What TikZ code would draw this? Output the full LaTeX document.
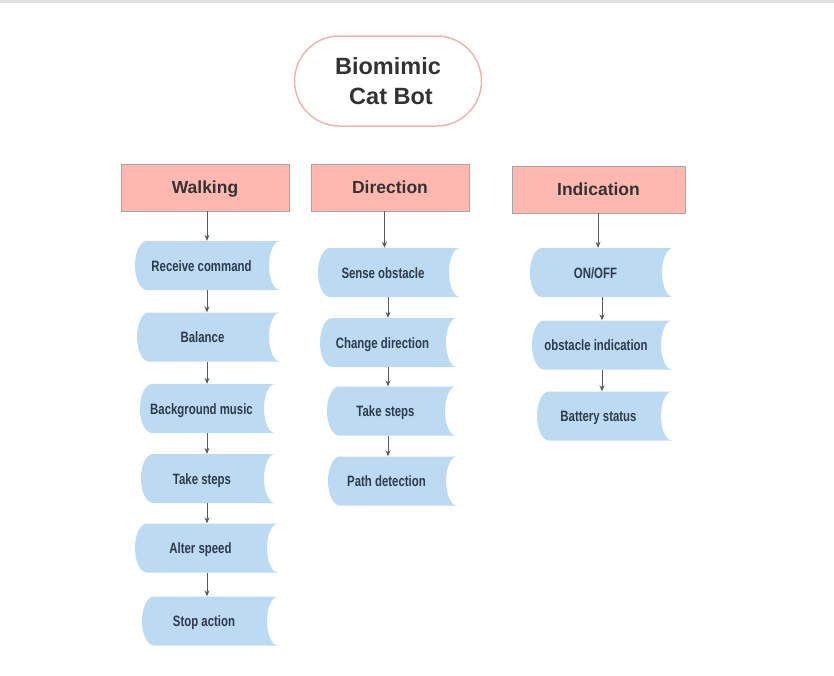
\documentclass[tikz,border=0pt]{standalone}
\usepackage{fontspec}
\setmainfont{Liberation Sans}
\newfontfamily\condfont{Liberation Sans}[FakeStretch=0.76]
\usetikzlibrary{arrows.meta}
\definecolor{headpink}{HTML}{FFB8B0}
\definecolor{titleline}{HTML}{F0B4AC}
\definecolor{cellblue}{HTML}{BCDAF1}
\definecolor{celltext}{HTML}{2E3B4D}
\definecolor{darktext}{HTML}{333333}
\definecolor{arrowgray}{HTML}{5A5A5A}
\begin{document}
\begin{tikzpicture}[x=1pt,y=-1pt,
	title/.style={rounded corners=45pt,draw=titleline,line width=1.5pt,minimum width=187pt,minimum height=90pt,align=center,font=\bfseries\fontsize{23.5}{30}\selectfont,text=darktext},
	head/.style={draw=gray!70,fill=headpink,minimum height=47pt,text height=12.5pt,text depth=0pt,font=\bfseries\fontsize{17.5}{20}\selectfont,text=darktext},
	cell/.style={minimum height=49pt,inner sep=0pt,text height=11pt,text depth=0pt,font=\condfont\bfseries\fontsize{15}{17}\selectfont,text=celltext,execute at end node=\kern12pt,
		path picture={
			\fill[cellblue] ([xshift=12pt]path picture bounding box.north west) -- (path picture bounding box.north east)
			arc[start angle=90,end angle=270,x radius=11pt,y radius=24.5pt] -- ([xshift=12pt]path picture bounding box.south west)
			arc[start angle=270,end angle=90,x radius=12pt,y radius=24.5pt] -- cycle;}},
	arr/.style={draw=arrowgray,line width=0.8pt,-{Stealth[length=6pt,width=5pt]}}]

	\useasboundingbox (0,0) rectangle (834,675);
	\fill[gray!25] (0,0) rectangle (834,2.5);

	\node[title] (bot) at (388,81) {Biomimic\\ \hspace*{6pt}Cat Bot};

	\node[head, minimum width=168pt] (walk) at (205,187.5) {Walking};
	\node[head, minimum width=158pt] (dir) at (390,187.5) {Direction};
	\node[head, minimum width=173pt] (ind) at (598.5,189.5) {Indication};

	% walking
	\node[cell, minimum width=145pt] (recv) at (207.5,265.5) {Receive command};
	\node[cell, minimum width=143pt] (bal) at (208.5,337) {Balance};
	\node[cell, minimum width=135pt] (music) at (207.5,408.5) {Background music};
	\node[cell, minimum width=134pt] (wsteps) at (208,478.5) {Take steps};
	\node[cell, minimum width=143pt] (speed) at (206.5,548) {Alter speed};
	\node[cell, minimum width=136pt] (stop) at (210,621) {Stop action};

	% direction
	\node[cell, minimum width=142pt] (sense) at (389,272.5) {Sense obstacle};
	\node[cell, minimum width=137pt] (change) at (388.5,342.5) {Change direction};
	\node[cell, minimum width=129pt] (dsteps) at (391.5,411) {Take steps};
	\node[cell, minimum width=129pt] (path) at (392.5,481) {Path detection};

	% indication
	\node[cell, minimum width=143pt] (onoff) at (601.5,272.5) {ON/OFF};
	\node[cell, minimum width=140pt] (obst) at (602,345) {obstacle indication};
	\node[cell, minimum width=135pt] (batt) at (604.5,416) {Battery status};

	\draw[arr] ([xshift=2pt]walk.south) -- ([xshift=-0.5pt]recv.north);
	\draw[arr] ([xshift=-0.5pt]recv.south) -- ([xshift=-1.5pt]bal.north);
	\draw[arr] ([xshift=-1.5pt]bal.south) -- ([xshift=-0.5pt]music.north);
	\draw[arr] ([xshift=-0.5pt]music.south) -- ([xshift=-1pt]wsteps.north);
	\draw[arr] ([xshift=-1pt]wsteps.south) -- ([xshift=0.5pt]speed.north);
	\draw[arr] ([xshift=0.5pt]speed.south) -- ([xshift=-3pt]stop.north);

	\draw[arr] ([xshift=-5.5pt]dir.south) -- ([xshift=-4.5pt]sense.north);
	\draw[arr] ([xshift=-1pt]sense.south) -- ([xshift=-0.5pt]change.north);
	\draw[arr] ([xshift=-0.5pt]change.south) -- ([xshift=-3.5pt]dsteps.north);
	\draw[arr] ([xshift=-3.5pt]dsteps.south) -- ([xshift=-4.5pt]path.north);

	\draw[arr] ([xshift=-0.5pt]ind.south) -- ([xshift=-3.5pt]onoff.north);
	\draw[arr] ([xshift=0.5pt]onoff.south) -- (obst.north);
	\draw[arr] (obst.south) -- ([xshift=-2.5pt]batt.north);

\end{tikzpicture}
\end{document}
